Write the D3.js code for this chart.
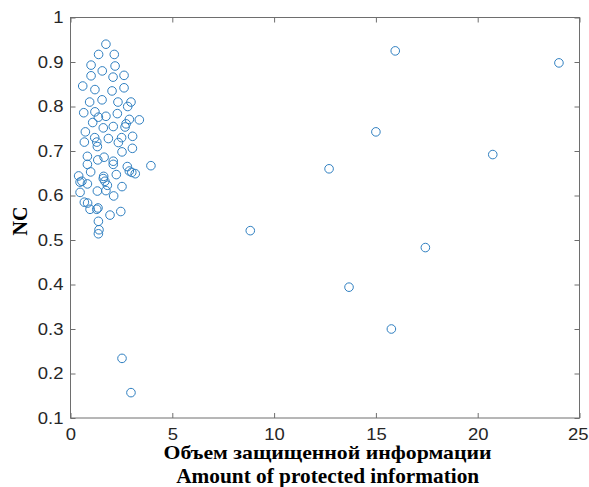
<!DOCTYPE html>
<html><head><meta charset="utf-8">
<script src="https://cdn.jsdelivr.net/npm/d3@7"></script>
<style>body{margin:0;background:#fff}</style>
</head><body><svg id="c" width="589" height="487"></svg>
<script>
const xTicks = [0,5,10,15,20,25];
const yTicks = [0.1,0.2,0.3,0.4,0.5,0.6,0.7,0.8,0.9,1];
const xLabel1 = "Объем защищенной информации";
const xLabel2 = "Amount of protected information";
const yLabel = "NC";
const xValues = [
 1.74,1.38,2.15,1.01,2.19,1.56,1.01,2.09,2.63,0.60,1.20,2.04,2.63,0.94,1.55,2.33,2.97,2.81,
 0.65,1.20,1.37,1.74,2.30,1.09,1.61,2.10,2.73,2.89,2.68,3.38,0.73,1.19,1.86,2.51,3.05,0.68,
 1.29,2.35,1.32,2.53,3.04,
 0.83,1.34,1.65,2.10,2.10,0.83,2.79,3.95,0.99,2.89,3.01,3.18,0.40,1.63,1.61,2.25,0.47,0.56,
 0.83,1.69,1.81,2.53,0.47,1.32,1.74,2.12,0.68,0.84,0.96,1.29,1.35,1.94,2.47,1.37,1.40,1.37,
 2.53,2.97,8.83,12.70,13.68,15.00,15.76,15.95,17.43,20.74,23.99
];
const yValues = [
 0.940,0.917,0.917,0.893,0.891,0.880,0.869,0.866,0.870,0.846,0.838,0.835,0.842,0.810,0.815,0.810,0.810,0.800,
 0.786,0.788,0.776,0.778,0.784,0.764,0.752,0.755,0.761,0.771,0.754,0.770,0.743,0.730,0.728,0.730,0.733,0.720,
 0.720,0.719,0.710,0.698,0.706,
 0.688,0.680,0.686,0.677,0.670,0.670,0.665,0.667,0.653,0.655,0.652,0.649,0.644,0.643,0.638,0.647,0.630,0.632,
 0.626,0.632,0.623,0.620,0.607,0.610,0.611,0.599,0.585,0.583,0.569,0.569,0.572,0.556,0.564,0.542,0.523,0.514,
 0.234,0.157,0.521,0.660,0.394,0.743,0.300,0.925,0.483,0.692,0.898
];

const svg = d3.select("#c");
const L=70.5, R=579.5, T=17.5, B=418;
const x = d3.scaleLinear().domain([0,25]).range([L,R]);
const y = d3.scaleLinear().domain([0.1,1]).range([B,T]);
const axisCol = "#6e6e6e", txtCol = "#262626";

svg.append("rect").attr("x",L).attr("y",T).attr("width",R-L).attr("height",B-T)
  .attr("fill","none").attr("stroke",axisCol).attr("stroke-width",1);

const fmt = d => d===1 ? "1" : String(d);
const gx = svg.append("g").attr("transform",`translate(0,${B})`)
  .call(d3.axisBottom(x).tickValues(xTicks).tickSize(-5).tickPadding(10).tickFormat(fmt));
const gxt = svg.append("g").attr("transform",`translate(0,${T})`)
  .call(d3.axisTop(x).tickValues(xTicks).tickSize(-5).tickFormat(""));
const gy = svg.append("g").attr("transform",`translate(${L},0)`)
  .call(d3.axisLeft(y).tickValues(yTicks).tickSize(-5).tickPadding(6.3).tickFormat(fmt));
const gyr = svg.append("g").attr("transform",`translate(${R},0)`)
  .call(d3.axisRight(y).tickValues(yTicks).tickSize(-5).tickFormat(""));
[gx,gxt,gy,gyr].forEach(g=>{
  g.select(".domain").remove();
  g.selectAll(".tick line").attr("stroke",axisCol);
  g.selectAll(".tick text").attr("fill",txtCol).attr("transform","scale(1.12,1)")
   .style("font-family","'Liberation Sans',Arial,sans-serif").style("font-size","16.5px");
});
gx.selectAll(".tick text").filter(d=>d===25).attr("dx","-1.5");

svg.append("g").selectAll("circle").data(xValues.map((v,i)=>[v,yValues[i]])).join("circle")
  .attr("cx",d=>x(d[0])).attr("cy",d=>y(d[1])).attr("r",4.3)
  .attr("fill","none").attr("stroke","#2f7fc1").attr("stroke-width",1);

const serif = "'Liberation Serif','Times New Roman',serif";
svg.append("text").attr("x",327.5).attr("y",459.3).attr("text-anchor","middle")
  .attr("textLength",328).attr("lengthAdjust","spacingAndGlyphs")
  .style("font-family",serif).style("font-weight","bold").style("font-size","19.5px")
  .attr("fill","#000").text(xLabel1);
svg.append("text").attr("x",327.7).attr("y",483).attr("text-anchor","middle")
  .attr("textLength",303).attr("lengthAdjust","spacingAndGlyphs")
  .style("font-family",serif).style("font-weight","bold").style("font-size","20.5px")
  .attr("fill","#000").text(xLabel2);
svg.append("text").attr("transform","translate(26.5,221) rotate(-90)").attr("text-anchor","middle")
  .style("font-family",serif).style("font-weight","bold").style("font-size","20px")
  .attr("fill","#000").text(yLabel);
</script></body></html>
